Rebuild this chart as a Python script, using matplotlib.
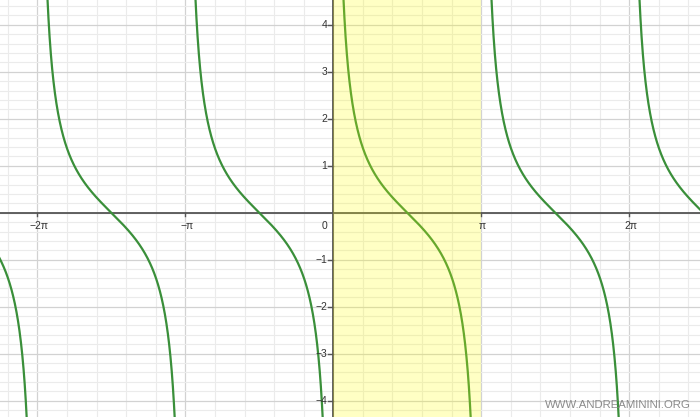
import numpy as np
import matplotlib
matplotlib.use("Agg")
import matplotlib.pyplot as plt

plt.rcParams['font.family'] = ['Liberation Sans', 'DejaVu Sans']

# view window (x in radians)
x_min, x_max = -7.075, 7.784
y_min, y_max = -4.35, 4.53

# function: y = cot(x), period pi, shaded interval one period
period = np.pi
shade_from, shade_to = 0.0, np.pi

x_ticks = [-2 * np.pi, -np.pi, np.pi, 2 * np.pi]
x_tick_labels = ["\u22122\u03c0", "\u2212\u03c0", "\u03c0", "2\u03c0"]
y_ticks = [-4, -3, -2, -1, 1, 2, 3, 4]
y_tick_labels = ["\u22124", "\u22123", "\u22122", "\u22121", "1", "2", "3", "4"]

fig = plt.figure(figsize=(7, 4.17), dpi=100)
ax = fig.add_axes([0, 0, 1, 1])
ax.set_xlim(x_min, x_max)
ax.set_ylim(y_min, y_max)
ax.axis("off")

# grid: minor every pi/5 and 0.2, major every pi and 1
for k in range(-12, 14):
    xv = k * np.pi / 5
    if k % 5 == 0:
        ax.axvline(xv, color="#d2d2d2", lw=0.9, zorder=1)
    else:
        ax.axvline(xv, color="#ebebeb", lw=0.8, zorder=1)
for k in range(-22, 23):
    yv = k * 0.2
    if k % 5 == 0:
        ax.axhline(yv, color="#d2d2d2", lw=0.9, zorder=1)
    else:
        ax.axhline(yv, color="#ebebeb", lw=0.8, zorder=1)

# axes
ax.axhline(0, color="#555555", lw=1.3, zorder=3)
ax.axvline(0, color="#555555", lw=1.3, zorder=3)

# curve, one branch per period
for n in range(-3, 3):
    xs = np.linspace(n * period + 1e-3, (n + 1) * period - 1e-3, 800)
    xs = xs[(xs > x_min - 0.1) & (xs < x_max + 0.1)]
    if len(xs) == 0:
        continue
    ys = np.cos(xs) / np.sin(xs)
    ys[(ys > 20) | (ys < -20)] = np.nan
    ax.plot(xs, ys, color="#3a8f3a", lw=1.6, zorder=4)

# shaded period drawn over the curve
ax.axvspan(shade_from, shade_to, color="#ffff00", alpha=0.23, lw=0, zorder=5)

# tick marks and labels
for xv, lab in zip(x_ticks, x_tick_labels):
    ax.plot([xv, xv], [0, -0.08], color="#555555", lw=1.0, zorder=3)
    ax.annotate(lab, (xv, 0), xytext=(1, -6), textcoords="offset points",
                ha="center", va="top", fontsize=7.5, color="#333333", zorder=6)
for yv, lab in zip(y_ticks, y_tick_labels):
    ax.plot([-0.12, 0], [yv, yv], color="#555555", lw=1.0, zorder=3)
    ax.annotate(lab, (0, yv), xytext=(-4.5, 0), textcoords="offset points",
                ha="right", va="center", fontsize=7.5, color="#333333", zorder=6)
ax.annotate("0", (0, 0), xytext=(-4.5, -6), textcoords="offset points",
            ha="right", va="top", fontsize=7.5, color="#333333", zorder=6)

fig.text(0.987, 0.029, "WWW.ANDREAMININI.ORG", ha="right", va="center",
         fontsize=8.2, color="#8a8a8a", zorder=7)

fig.savefig("out.png", dpi=100)
